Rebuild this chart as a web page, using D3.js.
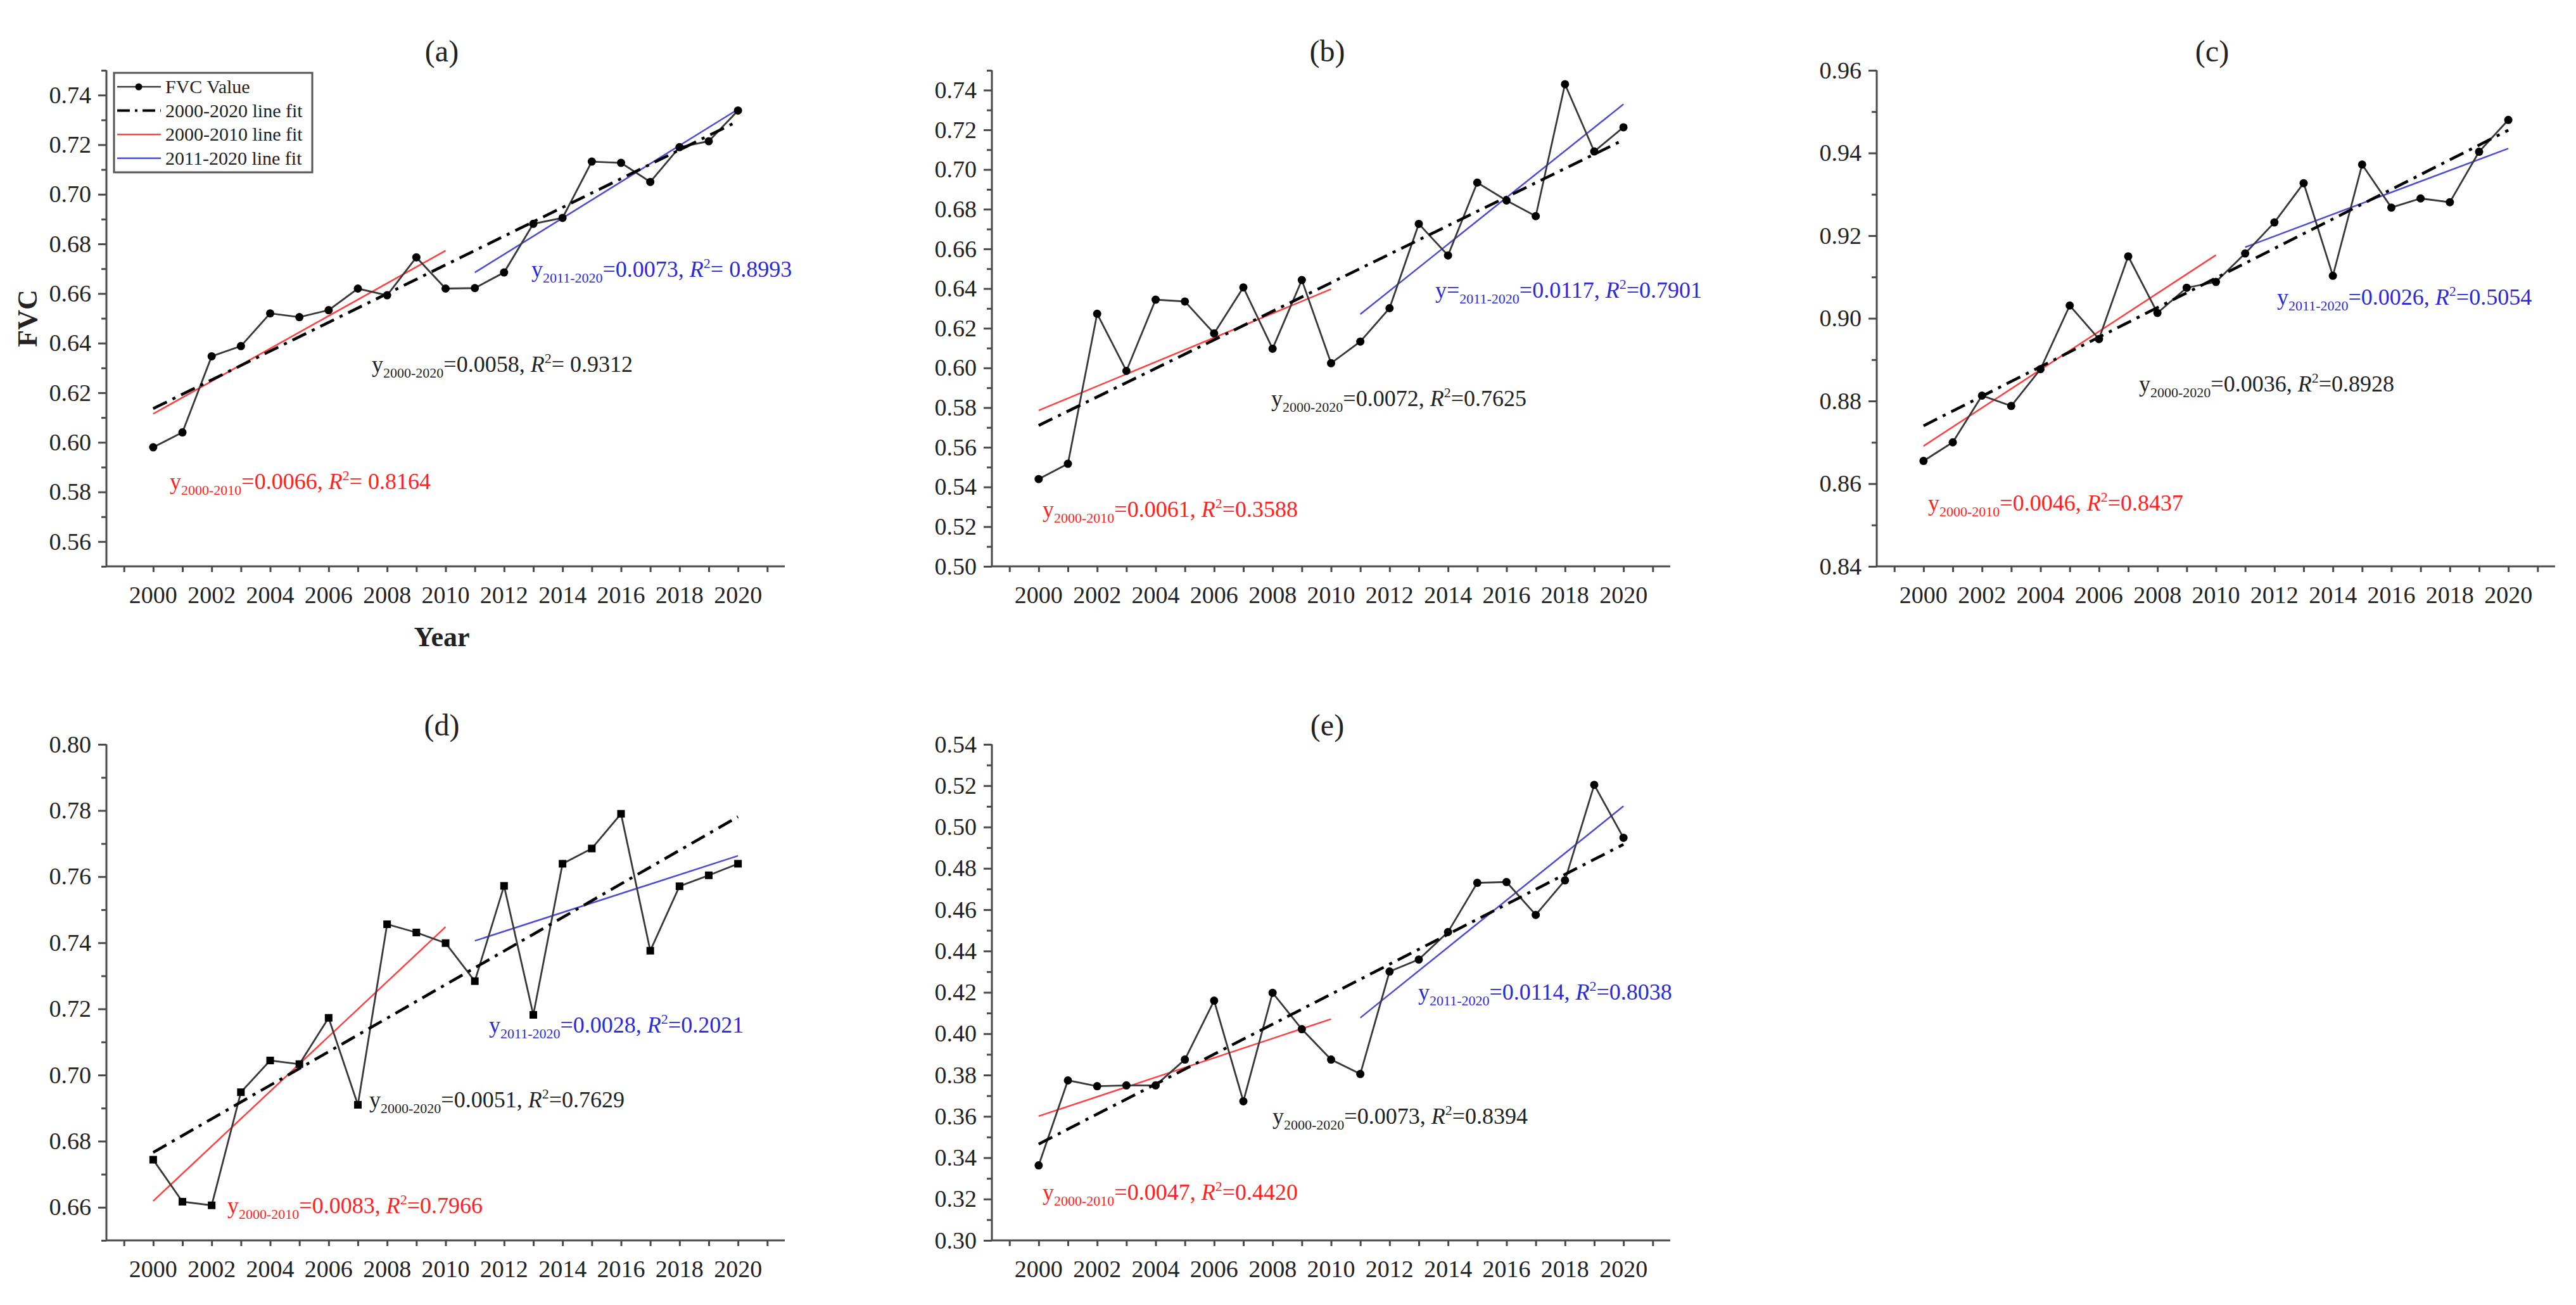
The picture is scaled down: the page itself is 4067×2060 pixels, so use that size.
<!DOCTYPE html>
<html>
<head>
<meta charset="utf-8">
<script src="https://cdn.jsdelivr.net/npm/d3@7"></script>
<style>
  body { margin: 0; background: #fff; }
  svg text { font-family: "Liberation Serif", "Times New Roman", serif; }
</style>
</head>
<body>
<svg id="chart" width="4067" height="2060" font-family="Liberation Serif, serif"></svg>
<script>
// years on the x axis
var years = d3.range(2000, 2021)
var xTicks = d3.range(1999, 2022)
var xLabels = d3.range(2000, 2021, 2)

// FVC values
var fvcA = [0.598, 0.604, 0.6347, 0.6388, 0.652, 0.6505, 0.6533, 0.662, 0.6593, 0.6746, 0.662,
            0.6622, 0.6685, 0.6881, 0.6905, 0.7132, 0.7127, 0.705, 0.719, 0.7214, 0.7338]
var fvcB = [0.544, 0.5517, 0.6273, 0.5985, 0.6344, 0.6335, 0.6174, 0.6406, 0.6097, 0.6443, 0.6024,
            0.6133, 0.6301, 0.6726, 0.6567, 0.6934, 0.6844, 0.6765, 0.743, 0.7091, 0.7213]
var fvcC = [0.8655, 0.870, 0.8813, 0.8788, 0.8877, 0.9031, 0.895, 0.915, 0.9013, 0.9074, 0.9088,
            0.9157, 0.9232, 0.9327, 0.9103, 0.9372, 0.9268, 0.929, 0.9281, 0.9403, 0.948]
var fvcD = [0.6744, 0.6617, 0.6606, 0.6948, 0.7044, 0.7033, 0.7173, 0.691, 0.7456, 0.7431, 0.7399,
            0.7284, 0.7572, 0.7182, 0.7639, 0.7685, 0.779, 0.7376, 0.7571, 0.7604, 0.7639]
var fvcE = [0.3363, 0.3774, 0.3746, 0.375, 0.375, 0.3875, 0.416, 0.3673, 0.4198, 0.4022, 0.3875,
            0.3805, 0.4301, 0.4359, 0.4492, 0.473, 0.4734, 0.4575, 0.4742, 0.5204, 0.4948]

// fitted line end values [start, end]
var fitAll = [[0.6136, 0.7295], [0.5710, 0.7149], [0.874, 0.9455], [0.6766, 0.7781], [0.3466, 0.4916]]
var fit0010 = [[0.6115, 0.6773], [0.5786, 0.6397], [0.8691, 0.9153], [0.6619, 0.7448], [0.3601, 0.4071]]
var fit1120 = [[0.6685, 0.7343], [0.6271, 0.7329], [0.9172, 0.9411], [0.7406, 0.7663], [0.4077, 0.5101]]

// slopes and R2 shown on the panels
var slopeAll = ["0.0058", "0.0072", "0.0036", "0.0051", "0.0073"]
var r2All = ["= 0.9312", "=0.7625", "=0.8928", "=0.7629", "=0.8394"]
var slope0010 = ["0.0066", "0.0061", "0.0046", "0.0083", "0.0047"]
var r20010 = ["= 0.8164", "=0.3588", "=0.8437", "=0.7966", "=0.4420"]
var slope1120 = ["0.0073", "0.0117", "0.0026", "0.0028", "0.0114"]
var r21120 = ["= 0.8993", "=0.7901", "=0.5054", "=0.2021", "=0.8038"]

var panelNames = ["(a)", "(b)", "(c)", "(d)", "(e)"]
var yDomains = [[0.55, 0.75], [0.50, 0.75], [0.84, 0.96], [0.65, 0.80], [0.30, 0.54]]
var yLabelStart = [0.56, 0.50, 0.84, 0.66, 0.30]
var yLabelEnd = [0.74, 0.74, 0.96, 0.80, 0.54]

var series = [fvcA, fvcB, fvcC, fvcD, fvcE]

// layout
var panelW = 1071, panelH = 783
var origins = [[168, 111], [1566, 111], [2963, 111], [168, 1175], [1566, 1175]]
// annotation offsets from panel origin: black, red, blue
var notePos = [
  [[419, 476], [100, 661], [671, 326]],
  [[441, 530], [80, 705], [700, 359]],
  [[414, 507], [81, 695], [632, 370]],
  [[415, 573], [191, 740], [604, 455]],
  [[443, 599], [80, 719], [673, 403]]
]

var serif = "Liberation Serif, Times New Roman, serif"
var axisColor = "#4a4a4a"
var redLine = "#ff4040", blueLine = "#4b4bd6"
var redText = "#ff2222", blueText = "#2a2ad8"

var svg = d3.select("#chart")

function addNote(g, x, y, color, pre, sub, slope, r2) {
  var t = g.append("text")
    .attr("x", x).attr("y", y)
    .attr("font-family", serif)
    .attr("font-size", "36px")
    .attr("fill", color)
  t.append("tspan").text(pre)
  t.append("tspan").attr("font-size", "22px").attr("dy", 9).text(sub)
  t.append("tspan").attr("dy", -9).text("=" + slope + ", ")
  t.append("tspan").attr("font-style", "italic").text("R")
  t.append("tspan").attr("font-size", "22px").attr("dy", -14).text("2")
  t.append("tspan").attr("dy", 14).text(r2)
}

for (var p = 0; p < 5; p++) {
  var ox = origins[p][0], oy = origins[p][1]
  var g = svg.append("g").attr("transform", "translate(" + ox + "," + oy + ")")

  var x = d3.scaleLinear().domain([1998.4, 2021.6]).range([0, panelW])
  var y = d3.scaleLinear().domain(yDomains[p]).range([panelH, 0])

  // x axis
  var xAxis = g.append("g")
    .attr("transform", "translate(0," + panelH + ")")
    .call(d3.axisBottom(x).tickValues(xTicks).tickSize(9).tickFormat(""))
  xAxis.select(".domain").attr("d", "M0,0H" + panelW)
  xAxis.selectAll("line,path").attr("stroke", axisColor).attr("stroke-width", 3)

  g.append("g").selectAll("text")
    .data(xLabels)
    .enter()
    .append("text")
    .attr("x", function(d) { return x(d) })
    .attr("y", panelH + 58)
    .attr("text-anchor", "middle")
    .attr("font-family", serif)
    .attr("font-size", "38px")
    .attr("fill", "#222")
    .text(function(d) { return d })

  // y axis with minor ticks
  var d0 = yDomains[p][0], d1 = yDomains[p][1]
  var minor = d3.range(Math.round(d0 * 100), Math.round(d1 * 100) + 1).map(function(v) { return v / 100 })
  var major = d3.range(Math.round(yLabelStart[p] * 100), Math.round(yLabelEnd[p] * 100) + 1, 2).map(function(v) { return v / 100 })

  var yMinor = g.append("g")
    .call(d3.axisLeft(y).tickValues(minor.filter(function(v) { return major.indexOf(v) < 0 })).tickSize(8).tickFormat(""))
  yMinor.select(".domain").attr("d", "M0," + panelH + "V0")
  yMinor.selectAll("line,path").attr("stroke", axisColor).attr("stroke-width", 3)

  var yMajor = g.append("g")
    .call(d3.axisLeft(y).tickValues(major).tickSize(13).tickFormat(d3.format(".2f")))
  yMajor.attr("font-family", serif)
  yMajor.select(".domain").remove()
  yMajor.selectAll("line").attr("stroke", axisColor).attr("stroke-width", 3)
  yMajor.selectAll("text")
    .attr("x", -24)
    .attr("font-size", "38px")
    .attr("font-family", serif)
    .attr("fill", "#222")

  // title
  g.append("text")
    .attr("x", panelW / 2 - 6)
    .attr("y", -14)
    .attr("text-anchor", "middle")
    .attr("font-family", serif)
    .attr("font-size", "48px")
    .attr("fill", "#222")
    .text(panelNames[p])

  // fit lines
  var fitLine = d3.line()
    .x(function(d) { return x(d[0]) })
    .y(function(d) { return y(d[1]) })

  g.append("path")
    .attr("d", fitLine([[2000, fit0010[p][0]], [2010, fit0010[p][1]]]))
    .attr("stroke", redLine).attr("stroke-width", 2.5).attr("fill", "none")
  g.append("path")
    .attr("d", fitLine([[2011, fit1120[p][0]], [2020, fit1120[p][1]]]))
    .attr("stroke", blueLine).attr("stroke-width", 2.5).attr("fill", "none")

  // data line
  var pts = years.map(function(yr, i) { return [yr, series[p][i]] })
  g.append("path")
    .attr("d", fitLine(pts))
    .attr("stroke", "#383838").attr("stroke-width", 2.8).attr("fill", "none")

  g.append("path")
    .attr("d", fitLine([[2000, fitAll[p][0]], [2020, fitAll[p][1]]]))
    .attr("stroke", "#000").attr("stroke-width", 4.5).attr("fill", "none")
    .attr("stroke-dasharray", "24,10,5,10")

  if (p === 3) {
    g.append("g").selectAll("rect")
      .data(pts)
      .enter()
      .append("rect")
      .attr("x", function(d) { return x(d[0]) - 6 })
      .attr("y", function(d) { return y(d[1]) - 6 })
      .attr("width", 12).attr("height", 12)
      .attr("fill", "#000")
  } else {
    g.append("g").selectAll("circle")
      .data(pts)
      .enter()
      .append("circle")
      .attr("cx", function(d) { return x(d[0]) })
      .attr("cy", function(d) { return y(d[1]) })
      .attr("r", 6.5)
      .attr("fill", "#000")
  }

  // annotations
  var np = notePos[p]
  addNote(g, np[0][0], np[0][1], "#222", "y", "2000-2020", slopeAll[p], r2All[p])
  addNote(g, np[1][0], np[1][1], redText, "y", "2000-2010", slope0010[p], r20010[p])
  addNote(g, np[2][0], np[2][1], blueText, p === 1 ? "y=" : "y", "2011-2020", slope1120[p], r21120[p])

  if (p === 0) {
    // axis titles
    g.append("text")
      .attr("transform", "translate(-110," + (panelH / 2) + ") rotate(-90)")
      .attr("text-anchor", "middle")
      .attr("font-family", serif)
      .attr("font-size", "44px")
      .attr("font-weight", "bold")
      .attr("fill", "#222")
      .text("FVC")
    g.append("text")
      .attr("x", panelW / 2 - 6)
      .attr("y", panelH + 126)
      .attr("text-anchor", "middle")
      .attr("font-family", serif)
      .attr("font-size", "44px")
      .attr("font-weight", "bold")
      .attr("fill", "#222")
      .text("Year")

    // legend
    var lg = g.append("g").attr("transform", "translate(12,4)")
    lg.append("rect")
      .attr("width", 313).attr("height", 157)
      .attr("fill", "#fff").attr("stroke", "#555").attr("stroke-width", 3)
    var legendItems = ["FVC Value", "2000-2020 line fit", "2000-2010 line fit", "2011-2020 line fit"]
    var legendColors = ["#383838", "#000", redLine, blueLine]
    legendItems.forEach(function(name, i) {
      var ly = 22 + i * 37.6
      var ln = lg.append("line")
        .attr("x1", 5).attr("x2", 74).attr("y1", ly).attr("y2", ly)
        .attr("stroke", legendColors[i]).attr("stroke-width", i === 1 ? 4 : 2.5)
      if (i === 1) ln.attr("stroke-dasharray", "20,8,4,8")
      if (i === 0) lg.append("circle").attr("cx", 39).attr("cy", ly).attr("r", 5.5).attr("fill", "#000")
      lg.append("text")
        .attr("x", 81).attr("y", ly + 10)
        .attr("font-family", serif)
        .attr("font-size", "30px")
        .attr("fill", "#222")
        .text(name)
    })
  }
}
</script>
</body>
</html>
